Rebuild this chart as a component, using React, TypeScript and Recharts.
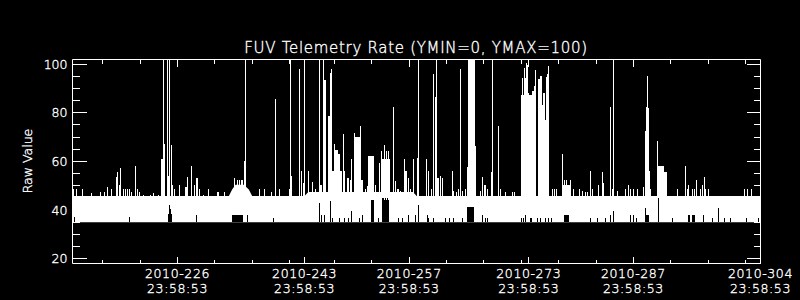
import { ComposedChart, Area, XAxis, YAxis, ReferenceLine, ReferenceArea } from 'recharts';

const FONT = '"DejaVu Sans", sans-serif';
const WEIGHT = 200;
// a hairline outline brightens the thin face so it reads like the plotter font
const TEXT_STROKE = { stroke: '#fff', strokeWidth: 0.35 };

// x = day of year 2010, y = raw telemetry value
const xDomain = [211.95, 304.0];
const yDomain = [18.1, 101.9];
const xMajorTicks = [226, 243, 257, 273, 287, 304];
const xMinorTicks = [216, 221, 231, 236, 241, 247, 252, 262, 267, 272, 277, 282, 292, 297, 302];
const yMajorTicks = [20, 40, 60, 80, 100];
const yMinorTicks = [25, 30, 35, 45, 50, 55, 65, 70, 75, 85, 90, 95];
const tickTime = '23:58:53';

// the dense noise band: [day, low, high]
const band = [
  [211.95, 35, 45.8], [232.87, 35, 45.8], [233.31, 35, 48.5], [233.76, 35, 50.5],
  [234.87, 35, 50.5], [235.54, 35, 48.5], [235.99, 35, 45.8], [243.0, 35, 45.8],
  [243.5, 35, 47.5], [257.5, 35, 47.5], [258.0, 35, 45.8], [304.0, 35, 45.8],
];

// single-sample spikes above the band: [day, value]
const spikes = [
  [212.13, 48.5], [212.48, 48.5], [213.33, 48.5], [214.44, 47.1], [215.69, 47.4], [216.23, 47.4],
  [216.67, 49.4], [217.17, 48.5], [217.88, 53.5], [218.01, 55.6], [218.28, 50.5], [218.41, 57.5],
  [218.73, 48.5], [218.99, 48.5], [219.26, 48.5], [219.62, 48.5], [219.89, 47.5], [220.42, 58.3],
  [220.6, 48.5], [220.87, 47.5], [221.4, 46.4], [222.38, 46.4], [222.83, 47.1], [223.41, 46.4],
  [224.08, 102], [224.7, 102], [224.97, 102], [225.37, 50.5], [225.59, 48.5], [226.31, 50.5],
  [227.38, 53.5], [227.92, 58.3], [228.32, 50.5], [228.99, 48.5], [229.52, 46.4], [230.19, 48.5],
  [231.31, 47.4], [231.53, 47.4], [232.24, 47.4], [233.67, 53.3], [233.98, 52.6], [234.34, 52.6],
  [234.56, 52.6], [234.74, 52.6], [235.14, 101.5], [236.97, 48.5], [237.68, 48.5], [238.53, 47.4],
  [239.11, 85.5], [239.69, 48.5], [241.03, 48.5], [241.16, 102], [241.25, 54.2], [242.37, 98.2],
  [242.59, 56.3], [242.81, 51.2], [242.99, 102], [243.56, 56.3], [244.01, 51.5], [244.46, 48.5],
  [244.99, 102], [245.48, 102], [246.55, 98.2], [248.16, 71.3], [249.27, 61.1], [250.48, 74.5],
  [251.15, 48.5], [251.37, 49.9], [252.48, 50.5], [252.71, 47.4], [253.06, 59.4], [253.29, 64.5],
  [253.69, 66.7], [253.95, 64.2], [254.27, 64.5], [254.94, 82.3], [255.16, 51.9], [255.38, 48.5],
  [255.6, 48.5], [255.83, 47.8], [256.41, 61.1], [256.85, 53.3], [257.17, 48.5], [257.61, 61.1],
  [258.06, 61.5], [258.2, 102], [259.31, 61.1], [259.53, 56.3], [259.62, 51.2], [259.98, 48.5],
  [260.29, 96.1], [260.6, 102], [261.18, 54.2], [261.5, 53.3], [262.97, 47.8], [263.28, 47.4],
  [263.55, 48.5], [263.9, 98.2], [264.08, 47.8], [264.53, 48.5], [264.75, 57.6], [266.54, 47.8],
  [266.85, 53.5], [267.43, 48.5], [268.01, 55.6], [268.1, 102], [268.19, 54.0], [268.99, 74.5],
  [269.21, 48.5], [269.88, 47.4], [270.77, 47.4], [271.08, 47.4], [272.2, 94.4], [272.38, 98.5],
  [272.69, 100.5], [272.78, 99.8], [273.87, 97.4], [275.67, 99.4], [276.12, 48.5], [276.43, 48.5],
  [276.7, 48.5], [277.46, 54.2], [277.55, 63.1], [277.81, 52.6], [278.04, 52.6], [278.57, 52.6],
  [278.93, 48.5], [279.82, 48.5], [280.13, 47.8], [280.58, 47.4], [280.89, 47.4], [281.25, 56.3],
  [281.47, 48.5], [282.36, 50.5], [282.81, 55.6], [282.94, 51.2], [283.92, 82.3], [284.15, 48.5],
  [284.37, 102], [284.9, 47.8], [285.93, 48.5], [286.29, 50.5], [286.6, 48.5], [287.04, 48.5],
  [287.58, 48.5], [288.29, 49.4], [288.69, 82.3], [288.83, 94.7], [288.92, 95.3], [289.32, 48.5],
  [290.22, 68.3], [292.94, 48.5], [294.01, 58.3], [294.27, 48.5], [294.41, 50.5], [294.85, 48.5],
  [295.21, 48.5], [295.43, 52.6], [295.97, 48.5], [296.28, 50.5], [296.46, 53.5], [296.64, 48.5],
  [296.99, 48.5], [301.85, 48.5], [302.21, 48.5], [302.79, 48.5],
];

// runs of high readings: [startDay, endDay, value]
const bursts = [
  [223.85, 224.05, 61.2], [224.0, 224.3, 67.2], [224.75, 224.95, 54.2], [225.1, 225.3, 66.7],
  [227.0, 227.25, 49.4], [228.41, 228.76, 53.3], [234.92, 235.19, 60.4],
  [245.04, 245.39, 50.5], [245.48, 245.93, 93.3], [246.11, 246.37, 78.6], [246.37, 246.73, 96.4],
  [246.73, 246.91, 55.9], [246.91, 247.13, 67.2], [247.13, 247.44, 64.9], [247.44, 247.71, 63.1],
  [247.71, 247.98, 56.3], [248.25, 248.47, 55.9], [248.69, 249.01, 53.3], [249.14, 249.27, 52.6],
  [249.6, 249.81, 71.8], [249.81, 250.39, 70.0], [250.39, 250.83, 52.6], [251.5, 252.35, 62.4],
  [253.38, 254.4, 61.1], [256.41, 256.72, 55.9],
  [260.43, 260.74, 86.4], [260.78, 260.96, 53.3], [262.66, 262.88, 56.3], [264.89, 265.78, 102],
  [265.78, 265.96, 66.3], [266.98, 267.29, 50.5],
  [272.02, 272.33, 87.5], [272.33, 272.69, 94.4], [272.69, 273.09, 88.2], [273.09, 273.45, 87.5],
  [273.45, 273.67, 88.9], [273.67, 273.84, 90.9], [274.2, 274.47, 93.7], [274.47, 274.78, 95.3],
  [274.78, 274.92, 83.4], [274.92, 275.18, 88.2], [275.18, 275.27, 77.2], [275.27, 275.45, 94.6],
  [275.45, 275.72, 96.0], [277.46, 278.66, 50.5],
  [288.52, 288.69, 72.4], [288.61, 288.83, 72.4], [288.83, 289.06, 82.0], [289.06, 289.28, 56.3],
  [290.3, 291.06, 58.3], [291.06, 291.51, 55.6],
];

// samples where the low end of the band lifts: [day, lowest value]
const dropouts = [
  [212.22, 37.1], [219.62, 37.1], [224.73, 37.1], [224.86, 38.5], [224.97, 42.0], [225.06, 40.5],
  [225.15, 38.5], [225.24, 37.1], [228.54, 38.2], [235.36, 38.2], [238.89, 36.8],
  [245.0, 43.0], [245.21, 38.2], [245.71, 38.2], [246.46, 43.6], [246.78, 36.8], [247.71, 36.8],
  [248.34, 36.8], [248.92, 36.8], [249.23, 39.6], [250.39, 36.8], [250.7, 38.2], [252.93, 36.8],
  [255.6, 36.8], [256.05, 36.8], [256.94, 38.2], [257.83, 38.2], [258.28, 42.3],
  [259.4, 38.2], [259.62, 36.8], [260.29, 36.8], [261.85, 36.8], [262.39, 36.8], [262.97, 36.8],
  [264.08, 36.8], [266.76, 38.2], [267.2, 36.8], [267.43, 36.8], [272.02, 36.8], [272.33, 36.8],
  [272.56, 38.2], [273.22, 36.8], [274.2, 36.8], [274.56, 36.8], [275.23, 36.8], [275.67, 36.8],
  [275.98, 36.8], [281.25, 36.8], [282.14, 36.8], [283.25, 36.8], [283.92, 38.2], [284.28, 39.6],
  [286.6, 38.2], [287.0, 38.2], [287.4, 36.8], [288.6, 40.9],
  [290.39, 45.0], [292.18, 36.8], [296.41, 38.2], [297.53, 36.8], [298.33, 40.9], [299.22, 36.8],
  [299.98, 36.8], [302.12, 36.8], [303.77, 36.8],
];

// longer stretches with a lifted low end: [startDay, endDay, lowest value]
const dropoutRuns = [
  [233.31, 234.74, 38.2], [251.95, 252.35, 44.3], [253.38, 254.27, 45.0], [264.75, 265.65, 41.3],
  [273.22, 273.44, 36.8], [277.68, 278.35, 38.2], [288.61, 289.06, 38.2], [294.32, 294.63, 38.2],
  [294.9, 295.21, 38.2],
];

const BAND_LOW = 35;
const SPIKE_FROM = 44;

const bandData = band.map(([day, lo, hi]) => ({ day, range: [lo, hi] }));
const xTicks = [...xMajorTicks, ...xMinorTicks].sort((a, b) => a - b);
const yTicks = [...yMajorTicks, ...yMinorTicks].sort((a, b) => a - b);

const axisIds = { xAxisId: 'b', yAxisId: 'l' };

function BottomTick({ x, y, payload }: any) {
  const major = xMajorTicks.includes(payload.value);
  return (
    <g>
      <line x1={x} x2={x} y1={y} y2={y - (major ? 7 : 4)} stroke="#fff" shapeRendering="crispEdges" />
      {major && (
        <text
          textAnchor="middle"
          fill="#fff"
          {...TEXT_STROKE}
          fontSize={12.5}
          fontFamily={FONT}
          fontWeight={WEIGHT}
          letterSpacing={0.6}
        >
          <tspan x={x} y={y + 14}>{`2010-${payload.value}`}</tspan>
          <tspan x={x} y={y + 29}>{tickTime}</tspan>
        </text>
      )}
    </g>
  );
}

function TopTick({ x, y, payload }: any) {
  const major = xMajorTicks.includes(payload.value);
  return <line x1={x} x2={x} y1={y} y2={y + (major ? 7 : 4)} stroke="#fff" shapeRendering="crispEdges" />;
}

function LeftTick({ x, y, payload }: any) {
  const major = yMajorTicks.includes(payload.value);
  return (
    <g>
      <line x1={x} x2={x + (major ? 14 : 7)} y1={y} y2={y} stroke="#fff" shapeRendering="crispEdges" />
      {major && (
        <text
          x={x - 5}
          y={y + 4.5}
          textAnchor="end"
          fill="#fff"
          {...TEXT_STROKE}
          fontSize={12.5}
          fontFamily={FONT}
          fontWeight={WEIGHT}
        >
          {payload.value}
        </text>
      )}
    </g>
  );
}

function RightTick({ x, y, payload }: any) {
  const major = yMajorTicks.includes(payload.value);
  return <line x1={x} x2={x - (major ? 14 : 7)} y1={y} y2={y} stroke="#fff" shapeRendering="crispEdges" />;
}

export default function App() {
  return (
    <div style={{ position: 'absolute', left: 0, top: 0, width: 800, height: 300, background: '#000' }}>
      <ComposedChart width={800} height={300} margin={{ top: 0, right: 0, bottom: 0, left: 0 }}>
        <XAxis
          xAxisId="b"
          dataKey="day"
          type="number"
          domain={xDomain}
          allowDataOverflow
          ticks={xTicks}
          interval={0}
          height={36.5}
          tickLine={false}
          tickSize={0}
          tickMargin={0}
          axisLine={{ stroke: '#fff' }}
          tick={<BottomTick />}
        />
        <XAxis
          xAxisId="t"
          orientation="top"
          dataKey="day"
          type="number"
          domain={xDomain}
          allowDataOverflow
          ticks={xTicks}
          interval={0}
          height={59.5}
          tickLine={false}
          tickSize={0}
          tickMargin={0}
          axisLine={{ stroke: '#fff' }}
          tick={<TopTick />}
        />
        <YAxis
          yAxisId="l"
          type="number"
          domain={yDomain}
          allowDataOverflow
          ticks={yTicks}
          interval={0}
          width={72.5}
          tickLine={false}
          tickSize={0}
          tickMargin={0}
          axisLine={{ stroke: '#fff' }}
          tick={<LeftTick />}
        />
        <YAxis
          yAxisId="r"
          orientation="right"
          type="number"
          domain={yDomain}
          allowDataOverflow
          ticks={yTicks}
          interval={0}
          width={39.5}
          tickLine={false}
          tickSize={0}
          tickMargin={0}
          axisLine={{ stroke: '#fff' }}
          tick={<RightTick />}
        />
        <Area
          {...axisIds}
          data={bandData}
          dataKey="range"
          type="linear"
          stroke="none"
          fill="#fff"
          fillOpacity={1}
          dot={false}
          activeDot={false}
          isAnimationActive={false}
        />
        {bursts.map(([d1, d2, v], i) => (
          <ReferenceArea
            key={`burst-${i}`}
            {...axisIds}
            x1={d1}
            x2={d2}
            y1={BAND_LOW}
            y2={v}
            fill="#fff"
            fillOpacity={1}
            stroke="none"
            ifOverflow="hidden"
            shapeRendering="crispEdges"
          />
        ))}
        {spikes.map(([d, v], i) => (
          <ReferenceLine
            key={`spike-${i}`}
            {...axisIds}
            segment={[{ x: d, y: SPIKE_FROM }, { x: d, y: v }]}
            stroke="#fff"
            strokeWidth={1}
            ifOverflow="hidden"
            shapeRendering="crispEdges"
          />
        ))}
        {dropoutRuns.map(([d1, d2, v], i) => (
          <ReferenceArea
            key={`run-${i}`}
            {...axisIds}
            x1={d1}
            x2={d2}
            y1={BAND_LOW}
            y2={v}
            fill="#000"
            fillOpacity={1}
            stroke="none"
            ifOverflow="hidden"
            shapeRendering="crispEdges"
          />
        ))}
        {dropouts.map(([d, v], i) => (
          <ReferenceLine
            key={`drop-${i}`}
            {...axisIds}
            segment={[{ x: d, y: BAND_LOW }, { x: d, y: v }]}
            stroke="#000"
            strokeWidth={1}
            ifOverflow="hidden"
            shapeRendering="crispEdges"
          />
        ))}
      </ComposedChart>
      <svg width={800} height={300} style={{ position: 'absolute', left: 0, top: 0, pointerEvents: 'none' }}>
        <text
          x={416}
          y={52.5}
          textAnchor="middle"
          fill="#fff"
          {...TEXT_STROKE}
          fontSize={15}
          fontFamily={FONT}
          fontWeight={WEIGHT}
          letterSpacing={0.7}
        >
          FUV Telemetry Rate (YMIN=0, YMAX=100)
        </text>
        <text
          x={32}
          y={161}
          transform="rotate(-90, 32, 161)"
          textAnchor="middle"
          fill="#fff"
          {...TEXT_STROKE}
          fontSize={12.5}
          fontFamily={FONT}
          fontWeight={WEIGHT}
        >
          Raw Value
        </text>
      </svg>
    </div>
  );
}
